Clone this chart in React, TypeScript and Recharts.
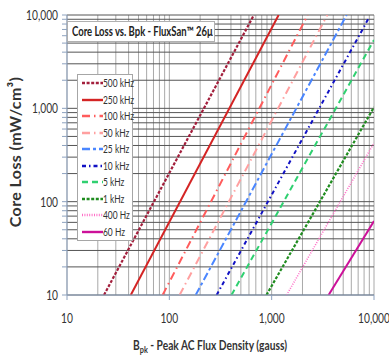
import { LineChart, Line, XAxis, YAxis, CartesianGrid, Legend } from 'recharts';

// Core loss curves (end points of each straight log-log line)
const freqLabels = ['500 kHz', '250 kHz', '100 kHz', '50 kHz', '25 kHz', '10 kHz', '5 kHz', '1 kHz', '400 Hz', '60 Hz'];
const fluxStart = [23, 42, 86, 126, 181, 290, 405, 890, 1400, 3600]; // gauss
const lossStart = [10, 10, 10, 10, 10, 10, 10, 10, 10, 10]; // mW/cm³
const fluxEnd = [670, 1170, 2250, 3500, 5400, 9000, 10000, 10000, 10000, 10000];
const lossEnd = [10000, 10000, 10000, 10000, 10000, 9500, 5400, 1030, 425, 62];

const decadeTicks = [10, 100, 1000, 10000];
const minorTicks = [
  10, 20, 30, 40, 50, 60, 70, 80, 90,
  100, 200, 300, 400, 500, 600, 700, 800, 900,
  1000, 2000, 3000, 4000, 5000, 6000, 7000, 8000, 9000,
  10000,
];

const lineStyles = [
  { color: '#a31f3c', width: 2.2, dash: '3 1.6' },
  { color: '#d42424', width: 2, dash: undefined },
  { color: '#ff5c5c', width: 2, dash: '8 4 1.5 4' },
  { color: '#ffa0a0', width: 2, dash: '8 4 1.5 4' },
  { color: '#4a86ff', width: 2, dash: '8 3 3 3' },
  { color: '#1111c4', width: 2, dash: '4 3 1.5 3' },
  { color: '#2fd070', width: 2, dash: '6 4' },
  { color: '#1f8c1f', width: 2.2, dash: '3 1.6' },
  { color: '#ff6ec7', width: 1.6, dash: '1 1.4' },
  { color: '#cc1199', width: 2, dash: undefined },
];

const series = freqLabels.map((name, i) => ({
  name,
  data: [
    { x: fluxStart[i], y: lossStart[i] },
    { x: fluxEnd[i], y: lossEnd[i] },
  ],
}));

const FONT = 'Lato, "Open Sans", sans-serif';
const SQUEEZE = 0.73;
const AXIS_COLOR = '#8da2bf';
const fmt = (v: number) => v.toLocaleString('en-US');

const XTick = (props: any) => {
  const { x, y, payload } = props;
  return (
    <text transform={`translate(${x} ${y + 21}) scale(${SQUEEZE} 1)`} textAnchor="middle" fontFamily={FONT} fontSize={14} fill="#333">
      {fmt(payload.value)}
    </text>
  );
};

const YTick = (props: any) => {
  const { x, y, payload } = props;
  if (!decadeTicks.includes(payload.value)) return null;
  return (
    <text transform={`translate(${x - 2} ${y + 5}) scale(${SQUEEZE} 1)`} textAnchor="end" fontFamily={FONT} fontSize={14} fill="#333">
      {fmt(payload.value)}
    </text>
  );
};

const LegendBox = () => (
  <div style={{ width: 56, height: 167, boxSizing: 'border-box', background: '#fff', border: '1px solid #a6a6a6', fontFamily: FONT }}>
    {freqLabels.map((name, i) => (
      <div key={name} style={{ height: 16.5, display: 'flex', alignItems: 'center' }}>
        <svg width={21} height={8} style={{ marginLeft: 4, flex: 'none' }}>
          <line x1={0} y1={4} x2={21} y2={4} stroke={lineStyles[i].color} strokeWidth={2.4} strokeDasharray={lineStyles[i].dash} />
        </svg>
        <span style={{ fontSize: 10.5, color: '#333', whiteSpace: 'nowrap', display: 'inline-block', transform: 'scaleX(0.8)', transformOrigin: 'left center' }}>
          {name}
        </span>
      </div>
    ))}
  </div>
);

export default function App() {
  return (
    <div style={{ position: 'absolute', left: 0, top: 0, width: 389, height: 359, background: '#fff', overflow: 'hidden' }}>
      <LineChart width={389} height={359} margin={{ top: 15, right: 15, bottom: 0, left: 0 }}>
        <CartesianGrid horizontal={false} verticalValues={minorTicks} stroke="#a9a9a9" />
        <CartesianGrid vertical={false} horizontalValues={minorTicks} stroke="#555" />
        <XAxis
          type="number"
          dataKey="x"
          scale="log"
          domain={[10, 10000]}
          allowDataOverflow
          ticks={decadeTicks}
          interval={0}
          height={64}
          tickSize={5}
          tick={<XTick />}
          stroke={AXIS_COLOR}
          label={(p: any) => {
            const vb = p.viewBox;
            const cx = 210;
            return (
              <text transform={`translate(${cx} ${vb.y + 55}) scale(${SQUEEZE} 1)`} textAnchor="middle" fontFamily={FONT} fontSize={14} fontWeight="bold" fill="#333">
                B<tspan fontSize={10} dy={3}>pk</tspan>
                <tspan dy={-3}> - Peak AC Flux Density (gauss)</tspan>
              </text>
            );
          }}
        />
        <YAxis
          type="number"
          scale="log"
          domain={[10, 10000]}
          allowDataOverflow
          ticks={minorTicks}
          interval={0}
          width={67}
          tickSize={5}
          tick={<YTick />}
          stroke={AXIS_COLOR}
          label={() => (
            <text transform="translate(21 152) rotate(-90)" textAnchor="middle" fontFamily={FONT} fontSize={16} fontWeight="bold" fill="#333" letterSpacing={0.4}>
              Core Loss (mW/cm³)
            </text>
          )}
        />
        {series.map((s, i) => (
          <Line
            key={s.name}
            name={s.name}
            data={s.data}
            dataKey="y"
            type="linear"
            dot={false}
            activeDot={false}
            stroke={lineStyles[i].color}
            strokeWidth={lineStyles[i].width}
            strokeDasharray={lineStyles[i].dash}
            isAnimationActive={false}
          />
        ))}
        <Legend
          layout="horizontal"
          align="center"
          verticalAlign="middle"
          content={<LegendBox />}
          wrapperStyle={{ left: 77, top: 74, width: 56, height: 167 }}
        />
      </LineChart>
      <div
        style={{
          position: 'absolute',
          left: 67,
          top: 21,
          width: 148,
          height: 21,
          boxSizing: 'border-box',
          background: '#fff',
          border: '1px solid #b0b0b0',
          fontFamily: FONT,
          fontSize: 13,
          fontWeight: 'bold',
          color: '#222',
          lineHeight: '19px',
          whiteSpace: 'nowrap',
        }}
      >
        <span style={{ display: 'inline-block', marginLeft: 4, transform: `scaleX(${SQUEEZE})`, transformOrigin: 'left center' }}>
          Core Loss vs. Bpk - FluxSan™ 26μ
        </span>
      </div>
    </div>
  );
}
